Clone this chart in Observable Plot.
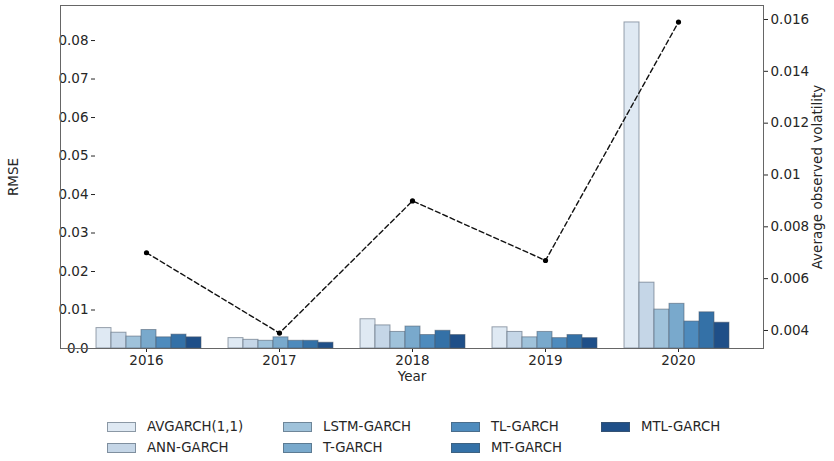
<!DOCTYPE html>
<html>
<head>
<meta charset="utf-8">
<script src="https://cdn.jsdelivr.net/npm/d3@7"></script>
<script src="https://cdn.jsdelivr.net/npm/@observablehq/plot@0.6"></script>
<style>
  html, body { margin: 0; padding: 0; background: #fff; }
  body { width: 834px; height: 461px; overflow: hidden; font-family: "DejaVu Sans", sans-serif; color: #262626; }
  #wrap { position: relative; width: 834px; height: 390px; }
  #wrap > svg, #wrap > figure { position: absolute; left: 0; top: 0; margin: 0; }
  #legend {
    display: grid; grid-auto-flow: column;
    grid-template-rows: 21px 21px;
    grid-template-columns: 176px 168px 150px auto;
    margin-left: 107px; padding-top: 26px;
    font-size: 13.3px; line-height: 21px;
  }
  .item { display: flex; align-items: center; white-space: nowrap; }
  .sw { box-sizing: border-box; width: 29px; height: 10px; border: 1px solid rgba(70,85,100,0.55); margin-right: 11px; }
</style>
</head>
<body>
<div id="wrap"></div>
<div id="legend"></div>
<script>
const years = ["2016", "2017", "2018", "2019", "2020"];
const models = ["AVGARCH(1,1)", "ANN-GARCH", "LSTM-GARCH", "T-GARCH", "TL-GARCH", "MT-GARCH", "MTL-GARCH"];
const colors = ["#dfe9f3", "#c5d6e7", "#9fc2da", "#79a9cc", "#4e8bbd", "#3471a7", "#1f4f88"];

const avgarch = [0.0053, 0.0027, 0.0076, 0.0055, 0.0847];
const annGarch = [0.0041, 0.00225, 0.0060, 0.0043, 0.0171];
const lstmGarch = [0.0031, 0.0020, 0.0043, 0.0029, 0.0101];
const tGarch = [0.0048, 0.0029, 0.0057, 0.0043, 0.0116];
const tlGarch = [0.0029, 0.0020, 0.0035, 0.0027, 0.0070];
const mtGarch = [0.0036, 0.0020, 0.0046, 0.0035, 0.0094];
const mtlGarch = [0.0029, 0.0015, 0.0035, 0.0027, 0.0067];
const volatility = [0.0070, 0.0039, 0.0090, 0.0067, 0.0159];

const rmseTicks = [0, 0.01, 0.02, 0.03, 0.04, 0.05, 0.06, 0.07, 0.08];
const volTicks = [0.004, 0.006, 0.008, 0.010, 0.012, 0.014, 0.016];

const series = [avgarch, annGarch, lstmGarch, tGarch, tlGarch, mtGarch, mtlGarch];
const bars = [];
years.forEach((yr, i) => models.forEach((m, j) => bars.push({year: yr, model: m, rmse: series[j][i]})));
const line = years.map((yr, i) => ({year: yr, vol: volatility[i]}));

const W = 834, H = 390, ML = 60, MR = 71, MT = 5, MB = 42;
const common = {
  width: W, height: H, marginLeft: ML, marginRight: MR, marginTop: MT, marginBottom: MB,
  style: {fontFamily: "DejaVu Sans", fontSize: "13.5px", color: "#262626", background: "transparent", overflow: "visible"}
};

const p1 = Plot.plot({
  ...common,
  fx: {domain: years, paddingInner: 0.2, paddingOuter: 0.243, axis: null, label: null},
  x: {domain: models, padding: 0, axis: null},
  y: {domain: [0, 0.0891], ticks: rmseTicks, tickFormat: d => d === 0 ? "0.0" : d3.format(".2f")(d),
      label: null, tickSize: 4, tickPadding: 3},
  color: {domain: models, range: colors},
  marks: [
    Plot.barY(bars, {fx: "year", x: "model", y: "rmse", fill: "model", inset: 0,
      stroke: "#4a5a6b", strokeOpacity: 0.55, strokeWidth: 1})
  ]
});

const p2 = Plot.plot({
  ...common,
  x: {type: "point", domain: years, padding: 0.639, label: "Year", labelAnchor: "center", labelOffset: 32,
      labelArrow: false, tickSize: 4, tickPadding: 3},
  y: {domain: [0.003305, 0.01654], axis: "right", ticks: volTicks,
      tickFormat: d => Math.abs(d - 0.01) < 1e-9 ? "0.01" : d3.format(".3f")(d),
      label: null, tickSize: 4, tickPadding: 3},
  marks: [
    Plot.frame({stroke: "#666", strokeWidth: 1}),
    Plot.line(line, {x: "year", y: "vol", stroke: "#111", strokeWidth: 1.4, strokeDasharray: "5,3"}),
    Plot.dot(line, {x: "year", y: "vol", r: 2.6, fill: "#000", stroke: "none"}),
    Plot.text(["RMSE"], {text: d => d, frameAnchor: "left", rotate: -90, dx: -47, textAnchor: "middle",
      fill: "#262626", fontSize: 13.5}),
    Plot.text(["Average observed volatility"], {text: d => d, frameAnchor: "right", rotate: -90, dx: 54,
      textAnchor: "middle", fill: "#262626", fontSize: 13.5})
  ]
});
p2.style.pointerEvents = "none";

const wrap = document.getElementById("wrap");
wrap.appendChild(p1);
wrap.appendChild(p2);

const legend = document.getElementById("legend");
models.forEach((m, j) => {
  const it = document.createElement("div");
  it.className = "item";
  const sw = document.createElement("span");
  sw.className = "sw";
  sw.style.background = colors[j];
  const t = document.createElement("span");
  t.textContent = m;
  it.appendChild(sw); it.appendChild(t);
  legend.appendChild(it);
});
</script>
</body>
</html>
